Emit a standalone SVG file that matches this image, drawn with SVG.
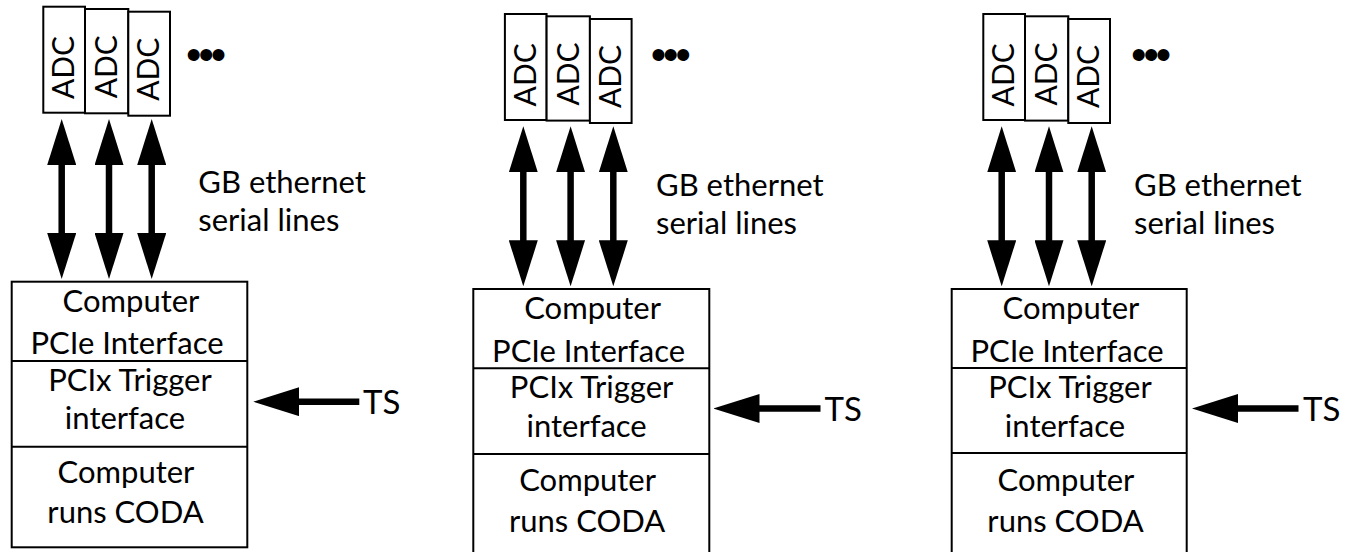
<svg xmlns="http://www.w3.org/2000/svg" width="1357" height="552" viewBox="0 0 1357 552">
<style>
.box{fill:#fff;stroke:#000;stroke-width:2}
.div{stroke:#000;stroke-width:2}
.t{font-family:Lato,"Open Sans","Liberation Sans",sans-serif;font-size:31px;fill:#000;text-anchor:middle}
.l{font-family:Lato,"Open Sans","Liberation Sans",sans-serif;font-size:31px;fill:#000}
.adc{font-family:Lato,"Open Sans","Liberation Sans",sans-serif;font-size:30px;fill:#000;text-anchor:middle}
.ts{font-family:Lato,"Open Sans","Liberation Sans",sans-serif;font-size:33px;fill:#000}
.dots{font-family:"Liberation Sans",sans-serif;font-size:44px;fill:#000;letter-spacing:-3px}
.sh{stroke:#000;stroke-width:6.5;fill:none}
.dbl{marker-start:url(#ah);marker-end:url(#ah)}
.one{marker-end:url(#ah)}
</style>
<defs>
<marker id="ah" markerUnits="userSpaceOnUse" markerWidth="46" markerHeight="29" refX="16" refY="14.5" orient="auto-start-reverse" viewBox="0 0 46 29">
<path d="M0,0 L46,14.5 L0,29 Z" fill="#000"/>
</marker>
</defs>

<g id="connectors">
<line class="sh dbl" x1="61.7" y1="149" x2="61.7" y2="249"/>
<line class="sh dbl" x1="109" y1="149" x2="109" y2="249"/>
<line class="sh dbl" x1="151.7" y1="149" x2="151.7" y2="249"/>
<line class="sh one" x1="359.3" y1="401.7" x2="283.3" y2="401.7"/>

<line class="sh dbl" x1="523.3" y1="156.3" x2="523.3" y2="256.3"/>
<line class="sh dbl" x1="570.6" y1="156.3" x2="570.6" y2="256.3"/>
<line class="sh dbl" x1="613.3" y1="156.3" x2="613.3" y2="256.3"/>
<line class="sh one" x1="820.5" y1="408.5" x2="743.5" y2="408.5"/>

<line class="sh dbl" x1="1001.7" y1="156.3" x2="1001.7" y2="256.3"/>
<line class="sh dbl" x1="1049" y1="156.3" x2="1049" y2="256.3"/>
<line class="sh dbl" x1="1091.7" y1="156.3" x2="1091.7" y2="256.3"/>
<line class="sh one" x1="1298.5" y1="408.5" x2="1222" y2="408.5"/>
</g>

<!-- Panel 1 -->
<g id="p1-adc1"><rect class="box" x="43.3" y="6.7" width="41.7" height="106"/><text class="adc" transform="translate(74.3,67.5) rotate(-90)">ADC</text></g>
<g id="p1-adc2"><rect class="box" x="85" y="9" width="43.3" height="104.3"/><text class="adc" transform="translate(117,66.7) rotate(-90)">ADC</text></g>
<g id="p1-adc3"><rect class="box" x="128.3" y="11.7" width="41.7" height="104"/><text class="adc" transform="translate(159.3,69.2) rotate(-90)">ADC</text></g>
<g id="p1-dots"><text class="dots" x="186" y="70">•••</text></g>
<g id="p1-label"><text class="l" x="198.3" y="193">GB ethernet</text><text class="l" x="198.3" y="231">serial lines</text></g>
<g id="p1-computer">
<rect class="box" x="11.7" y="281.7" width="235.6" height="265.6"/>
<line class="div" x1="11.7" y1="361" x2="247.3" y2="361"/>
<line class="div" x1="11.7" y1="446.7" x2="247.3" y2="446.7"/>
<text class="t" x="131" y="311.5">Computer</text>
<text class="t" x="127" y="354">PCIe Interface</text>
<text class="t" x="130" y="390.5">PCIx Trigger</text>
<text class="t" x="125" y="429">interface</text>
<text class="t" x="126" y="483">Computer</text>
<text class="t" x="125.5" y="523">runs CODA</text>
</g>
<g id="p1-ts"><text class="ts" x="363" y="414">TS</text></g>

<!-- Panel 2 -->
<g id="p2-adc1"><rect class="box" x="504.9" y="14" width="41.7" height="106"/><text class="adc" transform="translate(535.9,74.8) rotate(-90)">ADC</text></g>
<g id="p2-adc2"><rect class="box" x="546.6" y="16.3" width="43.3" height="104.3"/><text class="adc" transform="translate(578.6,74) rotate(-90)">ADC</text></g>
<g id="p2-adc3"><rect class="box" x="589.9" y="19" width="41.7" height="104"/><text class="adc" transform="translate(620.9,76.5) rotate(-90)">ADC</text></g>
<g id="p2-dots"><text class="dots" x="650.7" y="70">•••</text></g>
<g id="p2-label"><text class="l" x="656" y="196">GB ethernet</text><text class="l" x="656" y="234">serial lines</text></g>
<g id="p2-computer">
<rect class="box" x="473.3" y="289" width="236" height="280"/>
<line class="div" x1="473.3" y1="368.3" x2="709.3" y2="368.3"/>
<line class="div" x1="473.3" y1="454" x2="709.3" y2="454"/>
<text class="t" x="592.6" y="319">Computer</text>
<text class="t" x="588.6" y="361.5">PCIe Interface</text>
<text class="t" x="591.6" y="397.5">PCIx Trigger</text>
<text class="t" x="586.6" y="436.5">interface</text>
<text class="t" x="587.6" y="491">Computer</text>
<text class="t" x="587.1" y="531.5">runs CODA</text>
</g>
<g id="p2-ts"><text class="ts" x="824.6" y="421.3">TS</text></g>

<!-- Panel 3 -->
<g id="p3-adc1"><rect class="box" x="983.3" y="14" width="41.7" height="106"/><text class="adc" transform="translate(1014.3,74.8) rotate(-90)">ADC</text></g>
<g id="p3-adc2"><rect class="box" x="1025" y="16.3" width="43.3" height="104.3"/><text class="adc" transform="translate(1057,74) rotate(-90)">ADC</text></g>
<g id="p3-adc3"><rect class="box" x="1068.3" y="19" width="41.7" height="104"/><text class="adc" transform="translate(1099.3,76.5) rotate(-90)">ADC</text></g>
<g id="p3-dots"><text class="dots" x="1131" y="70">•••</text></g>
<g id="p3-label"><text class="l" x="1134" y="196">GB ethernet</text><text class="l" x="1134" y="234">serial lines</text></g>
<g id="p3-computer">
<rect class="box" x="951.7" y="289" width="235" height="280"/>
<line class="div" x1="951.7" y1="368" x2="1186.7" y2="368"/>
<line class="div" x1="951.7" y1="453" x2="1186.7" y2="453"/>
<text class="t" x="1071" y="319">Computer</text>
<text class="t" x="1067" y="361.5">PCIe Interface</text>
<text class="t" x="1070" y="397.5">PCIx Trigger</text>
<text class="t" x="1065" y="436.5">interface</text>
<text class="t" x="1066" y="491">Computer</text>
<text class="t" x="1065.5" y="531.5">runs CODA</text>
</g>
<g id="p3-ts"><text class="ts" x="1303" y="421.3">TS</text></g>
</svg>
